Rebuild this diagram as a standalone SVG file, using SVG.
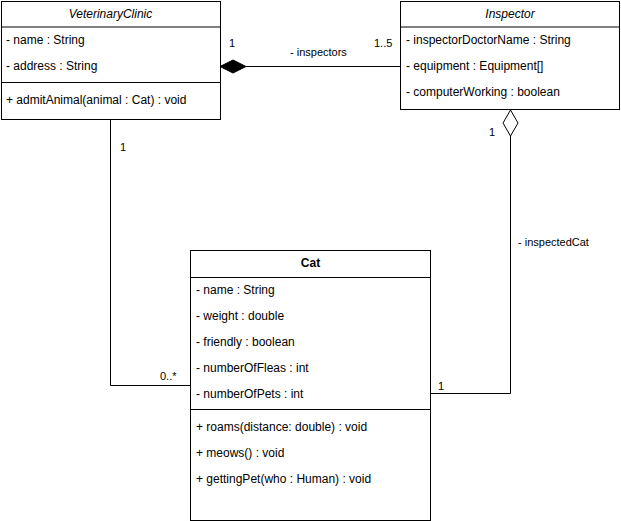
<svg xmlns="http://www.w3.org/2000/svg" width="621" height="521" viewBox="0 0 621 521">
<style>
text{font-family:"Liberation Sans",Arial,sans-serif;font-size:12px;fill:#000}
.l{font-size:11px}
.t{font-size:12px;text-anchor:middle}
.i{font-style:italic}
.b{font-weight:bold}
.box{fill:#fff;stroke:#000;stroke-width:1}
.ln{fill:none;stroke:#000;stroke-width:1}
</style>
<rect width="621" height="521" fill="#fff"/>
<g id="connectors">
<polyline class="ln" points="110.5,119 110.5,385.5 190,385.5"/>
<text class="l" x="120" y="151">1</text>
<text class="l" x="160" y="380">0..*</text>
<line class="ln" x1="246" y1="66.5" x2="400" y2="66.5"/>
<polygon points="220,66.5 233,60 246,66.5 233,73" fill="#000" stroke="#000"/>
<text class="l" x="229" y="47">1</text>
<text class="l" x="374" y="47">1..5</text>
<text class="l" x="290" y="56">- inspectors</text>
<polyline class="ln" points="510.5,136 510.5,393.5 431,393.5"/>
<polygon points="510.5,110 518,123 510.5,136 503,123" fill="#fff" stroke="#000"/>
<text class="l" x="489" y="136">1</text>
<text class="l" x="518" y="246">- inspectedCat</text>
<text class="l" x="438" y="390">1</text>
</g>
<g id="VeterinaryClinic">
<rect class="box" x="1.5" y="1.5" width="219" height="118"/>
<line class="ln" x1="1.5" y1="27" x2="220.5" y2="27"/>
<text class="t i" x="110.5" y="18">VeterinaryClinic</text>
<text x="6" y="44">- name : String</text>
<text x="6" y="70">- address : String</text>
<line class="ln" x1="1.5" y1="82.5" x2="220.5" y2="82.5"/>
<text x="6" y="104">+ admitAnimal(animal : Cat) : void</text>
</g>
<g id="Inspector">
<rect class="box" x="400.5" y="1.5" width="219" height="108"/>
<line class="ln" x1="400.5" y1="27" x2="619.5" y2="27"/>
<text class="t i" x="510" y="18">Inspector</text>
<text x="406" y="44">- inspectorDoctorName : String</text>
<text x="406" y="70">- equipment : Equipment[]</text>
<text x="406" y="96">- computerWorking : boolean</text>
</g>
<g id="Cat">
<rect class="box" x="190.5" y="250.5" width="240" height="270"/>
<line class="ln" x1="190.5" y1="277.5" x2="430.5" y2="277.5"/>
<text class="t b" x="310.5" y="267">Cat</text>
<text x="196" y="294">- name : String</text>
<text x="196" y="320">- weight : double</text>
<text x="196" y="346">- friendly : boolean</text>
<text x="196" y="372">- numberOfFleas : int</text>
<text x="196" y="398">- numberOfPets : int</text>
<line class="ln" x1="190.5" y1="409.5" x2="430.5" y2="409.5"/>
<text x="196" y="431">+ roams(distance: double) : void</text>
<text x="196" y="457">+ meows() : void</text>
<text x="196" y="483">+ gettingPet(who : Human) : void</text>
</g>
</svg>
